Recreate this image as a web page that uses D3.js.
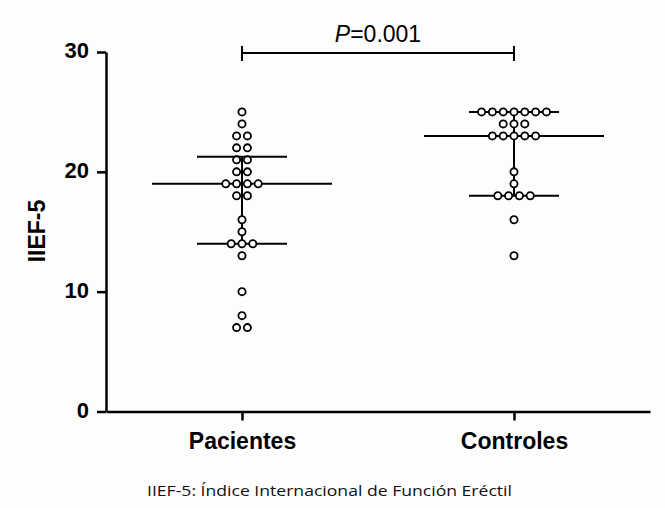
<!DOCTYPE html>
<html><head><meta charset="utf-8">
<script src="https://cdn.jsdelivr.net/npm/d3@7"></script>
<style>
html,body{margin:0;padding:0;background:#fdfdfd;}
svg{display:block;}
</style></head>
<body>
<svg id="chart" width="665" height="508"></svg>
<script>
const categories = ["Pacientes", "Controles"];
const pacientes = [25,24,23,23,22,22,21,21,20,20,19,19,19,19,18,18,16,15,14,14,14,13,10,8,7,7];
const controles = [25,25,25,25,25,25,25,24,24,24,23,23,23,23,23,20,19,18,18,18,18,16,13];
const medians = [19, 23];
const q1 = [14, 18];
const q3 = [21.25, 25];
const yTicks = [0, 10, 20, 30];
const pLabel = "0.001";
const yTitle = "IIEF-5";
const caption = "IIEF-5:  Índice Internacional de Función Eréctil";

const svg = d3.select("#chart");
const x = d3.scalePoint().domain(categories).range([106, 650]).padding(0.5);
const y = d3.scaleLinear().domain([0, 30]).range([411.5, 52]);

// axes
const yAxis = svg.append("g").attr("transform","translate(106,0)")
  .call(d3.axisLeft(y).tickValues(yTicks).tickSize(9).tickSizeOuter(0).tickPadding(8));
yAxis.selectAll("path,line").attr("stroke","#000").attr("stroke-width",2.5);
yAxis.selectAll("text").attr("font-family","Liberation Sans, Arial, sans-serif")
  .attr("font-weight","bold").attr("font-size","22px").attr("fill","#000").attr("dy","0.25em");

const xAxis = svg.append("g").attr("transform","translate(0,411.5)")
  .call(d3.axisBottom(x).tickSize(9).tickSizeOuter(0).tickPadding(12));
xAxis.selectAll("path,line").attr("stroke","#000").attr("stroke-width",2.5);
xAxis.selectAll("text").attr("font-family","Liberation Sans, Arial, sans-serif")
  .attr("font-weight","bold").attr("font-size","23px").attr("fill","#000");

// y title
svg.append("text").attr("transform","translate(45,231) rotate(-90)")
  .attr("text-anchor","middle").attr("font-family","Liberation Sans, Arial, sans-serif")
  .attr("font-weight","bold").attr("font-size","23px").text(yTitle);

// median & IQR
const groups = [pacientes, controles];
categories.forEach((c, i) => {
  const cx = x(c);
  const g = svg.append("g").attr("stroke","#000").attr("stroke-width",2);
  g.append("line").attr("x1",cx).attr("x2",cx).attr("y1",y(q1[i])).attr("y2",y(q3[i]));
  g.append("line").attr("x1",cx-90).attr("x2",cx+90).attr("y1",y(medians[i])).attr("y2",y(medians[i]));
  [q1[i], q3[i]].forEach(v => g.append("line").attr("x1",cx-45).attr("x2",cx+45).attr("y1",y(v)).attr("y2",y(v)));
});

// dots (beeswarm layout)
const spacing = 10.8;
groups.forEach((vals, i) => {
  const counts = d3.rollup(vals, v => v.length, d => d);
  const seen = new Map();
  const pts = vals.map(v => {
    const k = seen.get(v) || 0; seen.set(v, k + 1);
    const n = counts.get(v);
    return {v, off: (k - (n - 1) / 2) * spacing};
  });
  svg.append("g").selectAll("circle").data(pts).join("circle")
    .attr("cx", d => x(categories[i]) + d.off)
    .attr("cy", d => y(d.v))
    .attr("r", 3.6)
    .attr("fill","#fff").attr("stroke","#000").attr("stroke-width",1.8);
});

// P bracket
const bx1 = x(categories[0]), bx2 = x(categories[1]), by = 53;
const br = svg.append("g").attr("stroke","#000").attr("stroke-width",2);
br.append("line").attr("x1",bx1).attr("x2",bx2).attr("y1",by).attr("y2",by);
br.append("line").attr("x1",bx1).attr("x2",bx1).attr("y1",by-7).attr("y2",by+8);
br.append("line").attr("x1",bx2).attr("x2",bx2).attr("y1",by-7).attr("y2",by+8);
const pt = svg.append("text").attr("x",(bx1+bx2)/2).attr("y",42).attr("text-anchor","middle")
  .attr("font-family","Liberation Sans, Arial, sans-serif").attr("font-size","23px");
pt.append("tspan").attr("font-style","italic").text("P");
pt.append("tspan").text("=" + pLabel);

// caption
svg.append("text").attr("x",147).attr("y",496)
  .attr("font-family","Open Sans, sans-serif").attr("font-size","15px").attr("fill","#111")
  .attr("textLength",365).attr("lengthAdjust","spacingAndGlyphs").text(caption);
</script>
</body></html>
